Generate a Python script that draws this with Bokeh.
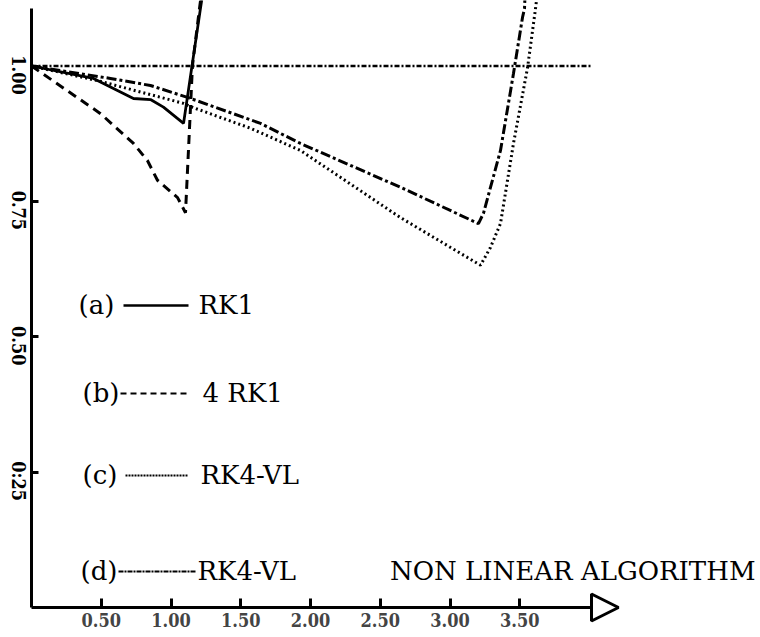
import math

from bokeh.embed import file_html
from bokeh.models import Arrow, FixedTicker, Label, LinearAxis, NormalHead, Range1d
from bokeh.plotting import figure
from bokeh.resources import INLINE

# ---- data: relative value against time for four schemes -------------------
t_rk1 = [0.0, 0.444, 0.731, 0.853, 0.946, 1.090, 1.211, 1.222]
v_rk1 = [1.0, 0.977, 0.940, 0.938, 0.924, 0.894, 1.106, 1.125]

t_4rk1 = [0.0, 0.495, 0.731, 0.832, 0.903, 1.047, 1.104, 1.154, 1.204, 1.214]
v_4rk1 = [1.0, 0.912, 0.857, 0.825, 0.789, 0.757, 0.729, 1.001, 1.106, 1.125]

t_rk4vl = [0.0, 0.473, 1.090, 1.161, 1.570, 1.928, 2.645, 3.219, 3.290, 3.362, 3.455, 3.556, 3.613, 3.622]
v_rk4vl = [1.0, 0.973, 0.931, 0.923, 0.885, 0.844, 0.720, 0.632, 0.665, 0.709, 0.857, 0.997, 1.106, 1.125]

t_nl = [0.0, 0.566, 0.853, 1.118, 1.642, 1.928, 2.645, 3.204, 3.240, 3.362, 3.455, 3.520, 3.534, 3.537]
v_nl = [1.0, 0.977, 0.964, 0.942, 0.894, 0.857, 0.776, 0.709, 0.728, 0.844, 0.986, 1.090, 1.106, 1.125]

ref_t = [0.0, 4.02]
ref_v = [1.0, 1.0]

x_ticks = [0.5, 1.0, 1.5, 2.0, 2.5, 3.0, 3.5]
x_tick_labels = ["0.50", "1.00", "1.50", "2.00", "2.50", "3.00", "3.50"]
y_ticks = [0.25, 0.5, 0.75, 1.0]
y_tick_labels = ["0:25", "0.50", "0.75", "1.00"]

legend_keys = ["(a)", "(b)", "(c)", "(d)"]
legend_names = ["RK1", "4 RK1", "RK4-VL", "RK4-VL"]
title_text = "NON LINEAR ALGORITHM"

# ---- canvas geometry: pixel <-> data helpers ------------------------------
W, H = 760, 637
X0_PX, X_SCALE = 31.0, 139.5      # pixel of t = 0, pixels per unit of t
Y0_PX, Y_SCALE = 607.0, 541.5     # pixel of v = 0, pixels per unit of v


def dx(px):
    return (px - X0_PX) / X_SCALE


def dy(py):
    return (Y0_PX - py) / Y_SCALE


p = figure(
    width=W, height=H,
    x_range=Range1d(dx(0), dx(W)), y_range=Range1d(dy(H), dy(0)),
    output_backend="svg", toolbar_location=None,
    x_axis_location=None, y_axis_location=None,
    min_border=0,
)
p.outline_line_color = None
p.xgrid.visible = False
p.ygrid.visible = False
p.background_fill_color = "white"
p.border_fill_color = "white"

TICK_FONT = "DejaVu Serif Condensed"
TICK_SIZE = "18px"

xaxis = LinearAxis(
    fixed_location=0.0, bounds=(0.0, 4.0),
    ticker=FixedTicker(ticks=x_ticks),
    major_label_overrides={t: s for t, s in zip(x_ticks, x_tick_labels)},
)
xaxis.axis_line_width = 3
xaxis.axis_line_color = "black"
xaxis.major_tick_in = 9
xaxis.major_tick_out = 0
xaxis.major_tick_line_width = 3
xaxis.minor_tick_line_color = None
xaxis.major_label_text_font = TICK_FONT
xaxis.major_label_text_font_style = "bold"
xaxis.major_label_text_font_size = TICK_SIZE
xaxis.major_label_standoff = 5
p.add_layout(xaxis, "below")

# vertical axis: line and ticks only; its labels are set sideways below
yaxis = LinearAxis(
    fixed_location=0.0, bounds=(0.0, dy(8)),
    ticker=FixedTicker(ticks=y_ticks),
)
yaxis.axis_line_width = 3
yaxis.axis_line_color = "black"
yaxis.major_tick_in = 7
yaxis.major_tick_out = 0
yaxis.major_tick_line_width = 3
yaxis.minor_tick_line_color = None
yaxis.major_label_text_color = None
p.add_layout(yaxis, "left")

# rotated tick labels, reading downwards, sitting just under each tick
for tv, tl in zip(y_ticks, y_tick_labels):
    p.add_layout(Label(x=dx(18), y=tv - 9.0 / Y_SCALE, text=tl, angle=-math.pi / 2,
                       text_font=TICK_FONT, text_font_style="bold",
                       text_font_size=TICK_SIZE, text_align="center",
                       text_baseline="middle", text_color="black"))

# open arrow head at the end of the time axis
p.add_layout(Arrow(
    x_start=3.9, y_start=0.0, x_end=dx(618), y_end=0.0,
    line_width=3, line_color="black",
    end=NormalHead(size=27, fill_color="white", line_color="black", line_width=3),
))

# ---- curves ---------------------------------------------------------------
p.line(ref_t, ref_v, line_color="black", line_width=2.5, line_dash="5 2 2 2")
p.line(t_rk1, v_rk1, line_color="black", line_width=2.8)
p.line(t_4rk1, v_4rk1, line_color="black", line_width=3, line_dash="9 6")
p.line(t_rk4vl, v_rk4vl, line_color="black", line_width=3, line_dash="2 3")
p.line(t_nl, v_nl, line_color="black", line_width=3, line_dash="10 3 3 3")

# ---- legend block ---------------------------------------------------------
LEG_FONT = "DejaVu Serif"
LEG_SIZE = "26px"
row_y = [304, 392, 474, 570]
key_x = [78, 82, 82, 80]
seg_x = [(123, 188), (120, 190), (125, 188), (118, 195)]
name_x = [198, 202, 200, 197]
seg_dash = ["solid", "6 4", "2 1", "5 1 2 1"]
seg_w = [2.5, 2.0, 1.8, 1.8]

for key, name, ry, kx, (sa, sb), nx, dash, lw in zip(
        legend_keys, legend_names, row_y, key_x, seg_x, name_x, seg_dash, seg_w):
    p.add_layout(Label(x=dx(kx), y=dy(ry), text=key, text_font=LEG_FONT,
                       text_font_size=LEG_SIZE, text_baseline="middle",
                       text_align="left", text_color="black"))
    p.add_layout(Label(x=dx(nx), y=dy(ry), text=name, text_font=LEG_FONT,
                       text_font_size=LEG_SIZE, text_baseline="middle",
                       text_align="left", text_color="black"))
    p.segment(x0=[dx(sa)], y0=[dy(ry + 1)], x1=[dx(sb)], y1=[dy(ry + 1)],
              line_color="black", line_width=lw, line_dash=dash)

p.add_layout(Label(x=dx(755), y=dy(row_y[-1]), text=title_text, text_font=LEG_FONT,
                   text_font_size=LEG_SIZE, text_baseline="middle",
                   text_align="right", text_color="black"))

open("out.html", "w").write(file_html(p, INLINE))
